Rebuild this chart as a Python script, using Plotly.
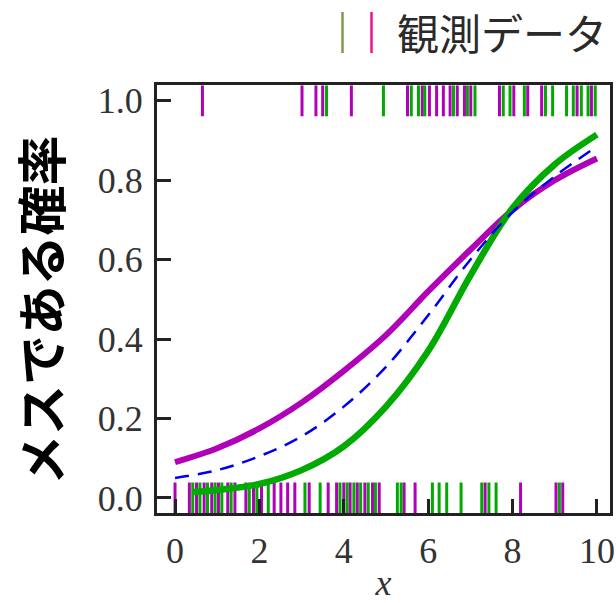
import plotly.graph_objects as go

# Fitted curves
curve_x = [0, 1, 2, 3, 4, 5, 6, 7, 8, 9, 10]
magenta_curve = [0.09, 0.125, 0.175, 0.24, 0.32, 0.41, 0.52, 0.625, 0.725, 0.80, 0.855]
blue_curve = [0.05, 0.07, 0.105, 0.155, 0.23, 0.33, 0.46, 0.60, 0.72, 0.81, 0.885]
green_x = [0.45, 1, 2, 3, 4, 5, 6, 7, 8, 9, 10]
green_curve = [0.015, 0.02, 0.035, 0.07, 0.13, 0.23, 0.37, 0.56, 0.73, 0.84, 0.915]

# Observed data (rug) : value 1
top_magenta = [0.65, 3.01, 3.34, 3.50, 4.18, 5.51, 5.86, 6.03, 6.20, 6.36, 6.52, 6.69,
               6.86, 7.01, 7.69, 8.03, 8.36, 8.69, 9.53, 9.87]
top_green = [3.59, 4.94, 5.60, 5.77, 5.92, 6.60, 6.93, 7.11, 7.78, 7.94, 8.28, 8.78,
             8.95, 9.28, 9.44, 9.63, 9.79, 9.96]
# Observed data (rug) : value 0
bot_magenta = [0.0, 0.34, 0.51, 0.69, 0.87, 1.03, 1.25, 1.42, 1.68, 1.86, 2.05, 2.35,
               2.51, 2.67, 2.84, 3.18, 3.63, 3.83, 4.00, 4.15, 4.32, 4.50, 4.68, 4.84,
               5.43, 5.69, 7.35, 8.19, 9.03, 9.19]
bot_green = [0.42, 0.59, 0.77, 0.95, 1.11, 1.33, 1.76, 1.94, 2.21, 3.08, 3.44, 3.91,
             4.08, 4.24, 4.40, 4.58, 4.75, 5.27, 5.36, 6.10, 6.26, 6.44, 6.78, 7.27,
             7.44, 7.61, 9.11]

x_ticks = [0, 2, 4, 6, 8, 10]
y_ticks = [0.0, 0.2, 0.4, 0.6, 0.8, 1.0]
y_ticktext = ["0.0", "0.2", "0.4", "0.6", "0.8", "1.0"]

MAG = "#b000b8"
GRN = "#00aa00"
BLU = "#0000ee"

# figure geometry
W, H = 616, 603
ML, MR, MT, MB = 157, 6, 85, 90
PW, PH = W - ML - MR, H - MT - MB


def px_x(p):
    return (p - ML) / PW


def px_y(p):
    return (H - MB - p) / PH


fig = go.Figure()


def rug(xs, yval, color):
    fig.add_trace(go.Scatter(
        x=xs, y=[yval] * len(xs), mode="markers", showlegend=False,
        marker=dict(symbol="line-ns-open", size=22, color=color,
                    line=dict(color=color, width=3))))


rug(top_magenta, 1.0, MAG)
rug(top_green, 1.0, GRN)
rug(bot_magenta, 0.0, MAG)
rug(bot_green, 0.0, GRN)

fig.add_trace(go.Scatter(x=curve_x, y=magenta_curve, mode="lines", showlegend=False,
                         line=dict(color=MAG, width=6, shape="spline")))
fig.add_trace(go.Scatter(x=green_x, y=green_curve, mode="lines", showlegend=False,
                         line=dict(color=GRN, width=6.5, shape="spline")))
fig.add_trace(go.Scatter(x=curve_x, y=blue_curve, mode="lines", showlegend=False,
                         line=dict(color=BLU, width=2.5, dash="14px,9px", shape="spline")))

axis_common = dict(showline=True, linecolor="#222222", linewidth=3, mirror=True,
                   ticks="inside", ticklen=14, tickwidth=3, tickcolor="#222222",
                   showgrid=False, zeroline=False, automargin=False,
                   tickfont=dict(family="Liberation Serif", size=36, color="#333333"))

fig.update_xaxes(range=[-0.427, 10.31], tickvals=x_ticks, ticktext=[str(v) for v in x_ticks],
                 title=dict(text="<i>x</i>", font=dict(family="Liberation Serif", size=36, color="#333333"),
                            standoff=7),
                 ticklabelstandoff=4, **axis_common)
fig.update_yaxes(range=[-0.038, 1.040], tickvals=y_ticks, ticktext=y_ticktext,
                 ticklabelstandoff=4, **axis_common)

# Legend drawn with shapes + text
for xp, col in [(342.5, "#7f9a4f"), (371.5, "#e8158f")]:
    fig.add_shape(type="line", xref="paper", yref="paper", x0=px_x(xp), x1=px_x(xp),
                  y0=px_y(53), y1=px_y(12), line=dict(color=col, width=2.5))
fig.add_annotation(text="観測データ", xref="paper", yref="paper", x=px_x(395),
                   y=px_y(31), xanchor="left", yanchor="middle", showarrow=False,
                   font=dict(family="Noto Sans CJK JP", size=42, color="#2a2a2a"))

# Y axis title
fig.add_annotation(text="メスである確率", xref="paper", yref="paper", x=px_x(39),
                   y=px_y(310), xanchor="center", yanchor="middle", textangle=-90,
                   showarrow=False,
                   font=dict(family="Noto Sans CJK JP", size=50, color="#000000", weight=700))

fig.update_layout(width=W, height=H, plot_bgcolor="white", paper_bgcolor="white",
                  margin=dict(l=ML, r=MR, t=MT, b=MB), showlegend=False)

fig.write_html("out.html", config={"displayModeBar": False},
               post_script="document.body.style.margin='0';")
